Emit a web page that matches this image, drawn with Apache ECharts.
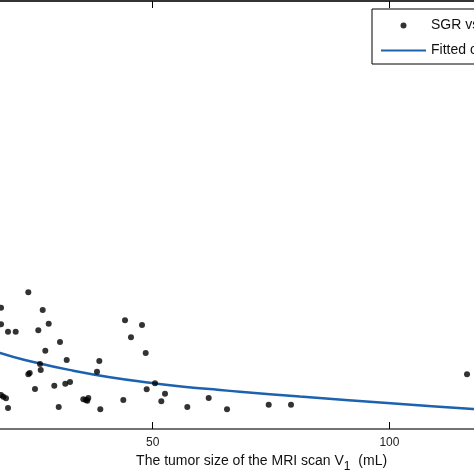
<!DOCTYPE html>
<html>
<head>
<meta charset="utf-8">
<style>html,body{margin:0;padding:0;background:#fff;}#c{width:474px;height:474px;}</style>
<script src="https://cdn.jsdelivr.net/npm/echarts@6/dist/echarts.min.js"></script>
</head>
<body>
<div id="c"></div>
<script>
// Scatter: tumor size V1 (mL) vs SGR (y axis unlabeled in the crop, arbitrary units)
const sgrX = [17.94,17.94,19.42,21.04,23.71,26.75,28.02,25.82,30.40,27.30,31.82,38.71,26.18,26.33,23.71,24.00,38.22,29.20,31.52,32.52,25.12,17.94,18.42,18.99,19.42,30.13,35.33,35.90,36.38,36.17,38.92,44.14,47.73,45.40,48.51,50.48,48.72,52.59,43.78,51.81,57.30,61.82,65.69,74.50,79.21,116.4];
const sgrY = [1.213,1.047,0.973,0.973,1.367,1.19,1.053,0.987,0.87,0.783,0.69,0.68,0.65,0.59,0.547,0.56,0.573,0.433,0.453,0.47,0.40,0.34,0.323,0.307,0.21,0.22,0.297,0.29,0.31,0.283,0.197,1.087,1.04,0.917,0.76,0.457,0.397,0.353,0.29,0.277,0.22,0.31,0.197,0.243,0.243,0.547];
// Fitted curve
const fitX = [10.0,17.73,25.48,33.0,40.97,49.84,57.0,64.21,68.4,81.1,100.27,117.67,125.0];
const fitY = [0.90,0.76,0.663,0.585,0.517,0.46,0.42,0.39,0.373,0.325,0.257,0.20,0.18];
const xTicks = [0,50,100];
const seriesNames = ['SGR vs V1','Fitted curve'];

const scatterData = sgrX.map((x,i)=>[x,sgrY[i]]);
const fitData = fitX.map((x,i)=>[x,fitY[i]]);

const chart = echarts.init(document.getElementById('c'));
const font = 'Liberation Sans, Arial, sans-serif';
chart.setOption({
  animation:false,
  backgroundColor:'#fff',
  textStyle:{fontFamily:font},
  grid:{left:-83.9, right:474-(-83.9+146*4.733), top:1, bottom:45, containLabel:false, outerBoundsMode:'none'},
  legend:{
    orient:'vertical', left:372, top:9,
    padding:[9,6,6,8],
    itemWidth:45, itemHeight:6, itemGap:10,
    backgroundColor:'#fff', borderColor:'#000', borderWidth:1, borderRadius:0,
    textStyle:{fontSize:14, color:'#111', fontFamily:font, lineHeight:15},
    data:[{name:seriesNames[0]},{name:seriesNames[1], itemStyle:{opacity:0}}]
  },
  xAxis:[{
    type:'value', position:'bottom', min:0, max:146, interval:50,
    axisLine:{show:true, lineStyle:{color:'#444', width:1.5}},
    axisTick:{show:true, inside:true, length:7, lineStyle:{color:'#000', width:1}},
    axisLabel:{show:true, margin:8, fontSize:12, color:'#222', fontFamily:font,
      formatter:v=> xTicks.indexOf(v)>=0 ? String(v) : ''},
    splitLine:{show:false},
    name:'The tumor size of the MRI scan V{s|1}  (mL)',
    nameLocation:'middle', nameGap:20,
    nameTextStyle:{fontSize:14, color:'#111', fontFamily:font,
      rich:{s:{fontSize:12, color:'#111', fontFamily:font, padding:[12,0,0,0]}}}
  },{
    type:'value', position:'top', min:0, max:146, interval:50,
    axisLine:{show:true, lineStyle:{color:'#333', width:2}},
    axisTick:{show:true, inside:true, length:7, lineStyle:{color:'#000', width:1}},
    axisLabel:{show:false}, splitLine:{show:false}
  }],
  yAxis:{type:'value', min:0, max:4.28, show:false, splitLine:{show:false}},
  series:[{
    name:seriesNames[0], type:'scatter', data:scatterData, symbol:'circle', symbolSize:6,
    itemStyle:{color:'#000'}, z:3
  },{
    name:seriesNames[1], type:'line', data:fitData, smooth:true, showSymbol:false, symbol:'none',
    lineStyle:{color:'#1c62ae', width:2.5}, itemStyle:{color:'#1c62ae'}, z:2
  }]
});
</script>
</body>
</html>
